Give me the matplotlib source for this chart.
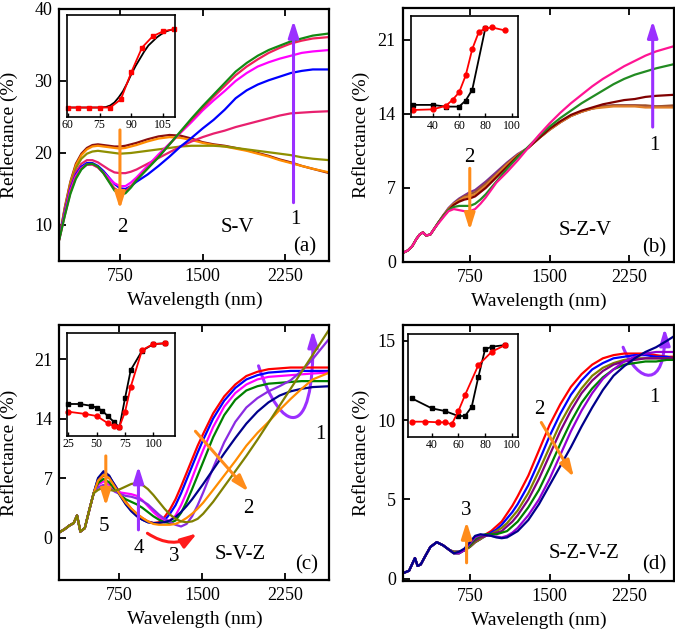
import matplotlib
matplotlib.use('Agg')
import matplotlib.pyplot as plt
from matplotlib.path import Path
from matplotlib.patches import FancyArrowPatch

plt.rcParams['font.family'] = ['Liberation Serif', 'DejaVu Serif']

# ---------------- panel (a) S-V ----------------
wl_a = [200, 250, 300, 350, 400, 450, 500, 550, 600, 650, 700, 750, 800, 850, 900, 1000,
        1100, 1200, 1300, 1400, 1500, 1600, 1700, 1800, 1900, 2000, 2100, 2200, 2300, 2400, 2500, 2650]
a_maroon = [8.2, 12.5, 16.0, 18.5, 19.9, 20.7, 21.1, 21.2, 21.1, 21.0, 20.9, 20.9, 21.0, 21.2, 21.4, 21.9,
            22.3, 22.5, 22.4, 22.0, 21.5, 21.2, 21.0, 20.7, 20.4, 20.0, 19.6, 19.1, 18.7, 18.2, 17.8, 17.2]
a_orange = [8.2, 12.3, 15.8, 18.3, 19.7, 20.5, 20.9, 21.0, 20.9, 20.8, 20.7, 20.6, 20.7, 20.9, 21.1, 21.6,
            22.0, 22.2, 22.1, 21.8, 21.4, 21.1, 20.9, 20.6, 20.3, 19.9, 19.5, 19.0, 18.6, 18.2, 17.8, 17.3]
a_olive = [8.2, 12.2, 15.6, 17.9, 19.2, 19.9, 20.2, 20.3, 20.2, 20.1, 20.0, 19.9, 19.95, 20.0, 20.1, 20.3,
           20.5, 20.7, 20.9, 21.0, 21.0, 21.0, 20.9, 20.7, 20.5, 20.3, 20.1, 19.9, 19.7, 19.4, 19.2, 19.0]
a_pink = [8.2, 12.0, 15.3, 17.4, 18.5, 19.0, 19.0, 18.7, 18.2, 17.7, 17.3, 17.2, 17.2, 17.4, 17.7, 18.5,
          19.3, 20.1, 20.9, 21.6, 22.2, 22.7, 23.1, 23.6, 24.0, 24.4, 24.8, 25.2, 25.5, 25.6, 25.7, 25.8]
a_blue = [8.2, 11.8, 15.0, 17.0, 18.1, 18.6, 18.6, 18.2, 17.5, 16.6, 15.7, 15.1, 15.0, 15.4, 16.0, 17.0,
          18.2, 19.5, 20.9, 22.1, 23.4, 24.6, 26.0, 27.6, 28.7, 29.5, 30.1, 30.6, 31.1, 31.4, 31.6, 31.6]
a_magenta = [8.1, 11.6, 14.8, 16.8, 17.9, 18.4, 18.4, 18.0, 17.3, 16.5, 15.8, 15.4, 15.4, 15.9, 16.6, 18.2,
             19.8, 21.3, 22.8, 24.3, 25.9, 27.3, 28.6, 30.0, 31.1, 32.0, 32.6, 33.1, 33.5, 33.9, 34.1, 34.3]
a_crimson = [8.0, 11.4, 14.5, 16.6, 17.8, 18.4, 18.4, 18.0, 17.2, 16.1, 15.1, 14.6, 14.7, 15.4, 16.3, 17.9,
             19.5, 21.2, 22.9, 24.6, 26.2, 27.8, 29.3, 30.8, 32.0, 33.0, 33.9, 34.6, 35.2, 35.6, 35.9, 36.1]
a_green = [8.0, 11.3, 14.3, 16.4, 17.7, 18.4, 18.5, 18.1, 17.2, 16.0, 14.8, 14.2, 14.4, 15.2, 16.2, 17.8,
           19.4, 21.2, 23.0, 24.8, 26.5, 28.1, 29.7, 31.3, 32.5, 33.5, 34.3, 34.9, 35.5, 35.9, 36.3, 36.6]
a_series = [a_maroon, a_orange, a_olive, a_pink, a_blue, a_magenta, a_crimson, a_green]
a_colors = ['#8b1010', '#ff8c00', '#8f8f00', '#e8206e', '#0000ff', '#ff00ff', '#f0205a', '#138a13']

ins_a_x = [60, 65, 70, 75, 80, 85, 90, 95, 100, 105, 110]
ins_a_red = [0.09, 0.09, 0.09, 0.09, 0.09, 0.17, 0.44, 0.68, 0.79, 0.84, 0.86]
ins_a_fit_x = [60, 75, 78, 80, 82, 84, 86, 88, 90, 92, 94, 96, 98, 100, 102, 104, 106, 108, 110]
ins_a_fit = [0.09, 0.09, 0.095, 0.11, 0.14, 0.19, 0.25, 0.33, 0.42, 0.50, 0.57, 0.64, 0.70, 0.74,
             0.78, 0.81, 0.835, 0.85, 0.86]

# ---------------- panel (b) S-Z-V ----------------
wl_b = [130, 170, 210, 250, 280, 310, 340, 380, 420, 460, 500, 550, 600, 650, 700, 750, 800, 850, 900,
        1000, 1100, 1200, 1300, 1400, 1500, 1600, 1700, 1800, 1900, 2000, 2100, 2200, 2300, 2400, 2500, 2670]
b_purple = [0.9, 1.1, 1.5, 2.2, 2.6, 2.8, 2.5, 2.6, 3.2, 3.8, 4.4, 5.1, 5.6, 6.0, 6.3, 6.6, 6.8, 7.2, 7.6,
            8.5, 9.4, 10.2, 10.8, 11.7, 12.5, 13.2, 13.8, 14.2, 14.5, 14.7, 14.8, 14.8, 14.8, 14.7, 14.7, 14.7]
b_sienna = [0.9, 1.1, 1.5, 2.2, 2.6, 2.8, 2.5, 2.6, 3.2, 3.8, 4.4, 5.0, 5.5, 5.9, 6.2, 6.4, 6.6, 7.0, 7.4,
            8.3, 9.3, 10.1, 10.8, 11.7, 12.5, 13.2, 13.8, 14.2, 14.5, 14.7, 14.8, 14.8, 14.8, 14.8, 14.7, 14.8]
b_orange = [0.9, 1.1, 1.5, 2.2, 2.6, 2.8, 2.5, 2.6, 3.2, 3.8, 4.3, 5.0, 5.5, 5.8, 6.1, 6.2, 6.4, 6.8, 7.2,
            8.2, 9.2, 10.1, 10.8, 11.7, 12.5, 13.2, 13.8, 14.2, 14.5, 14.6, 14.7, 14.7, 14.7, 14.6, 14.6, 14.6]
b_maroon = [0.9, 1.1, 1.5, 2.2, 2.6, 2.8, 2.5, 2.6, 3.2, 3.8, 4.3, 4.9, 5.4, 5.7, 5.9, 6.0, 6.2, 6.6, 7.0,
            8.0, 9.0, 10.0, 10.8, 11.7, 12.6, 13.3, 13.9, 14.3, 14.6, 14.9, 15.1, 15.3, 15.4, 15.6, 15.7, 15.8]
b_green = [0.9, 1.1, 1.5, 2.2, 2.6, 2.8, 2.5, 2.6, 3.2, 3.8, 4.3, 4.9, 5.2, 5.3, 5.3, 5.3, 5.5, 5.9, 6.4,
           7.6, 8.8, 9.9, 10.9, 11.9, 12.8, 13.6, 14.3, 15.0, 15.6, 16.2, 16.8, 17.3, 17.7, 18.0, 18.3, 18.7]
b_pink = [0.9, 1.1, 1.5, 2.2, 2.6, 2.8, 2.5, 2.6, 3.2, 3.7, 4.2, 4.8, 5.0, 4.9, 4.8, 4.8, 5.0, 5.5, 6.1,
          7.5, 8.5, 9.6, 10.8, 12.0, 13.1, 14.1, 15.0, 15.8, 16.6, 17.3, 17.9, 18.5, 19.0, 19.5, 19.9, 20.4]
b_series = [b_purple, b_sienna, b_orange, b_maroon, b_green, b_pink]
b_colors = ['#7d2e8e', '#a0522d', '#e0802a', '#800000', '#228b22', '#ff1493']

ins_b_black_x = [25, 40, 50, 60, 65, 70, 80]
ins_b_black = [0.124, 0.124, 0.107, 0.107, 0.167, 0.274, 0.884]
ins_b_red_x = [25, 40, 50, 55, 60, 65, 70, 75, 80, 85, 95]
ins_b_red = [0.074, 0.08, 0.115, 0.174, 0.247, 0.414, 0.674, 0.844, 0.877, 0.887, 0.857]

# ---------------- panel (c) S-V-Z ----------------
wl_c = [210, 260, 300, 340, 370, 400, 440, 480, 520, 560, 610, 660, 710, 760, 810, 860, 910, 960, 1010,
        1060, 1110, 1160, 1210, 1260, 1310, 1360, 1410, 1460, 1510, 1600, 1700, 1800, 1900, 2000, 2100,
        2200, 2300, 2400, 2500, 2650]
c_red = [0.6, 1.0, 1.4, 1.7, 2.6, 0.7, 1.1, 3.2, 5.2, 6.7,
         7.3, 7.0, 6.2, 5.2, 4.2, 3.4, 2.8, 2.3, 1.9, 1.7, 1.8, 2.4, 3.3, 4.5, 6.0, 7.6, 9.2, 10.8, 12.2,
         14.6, 16.6, 18.0, 19.0, 19.5, 19.8, 19.9, 20.0, 20.0, 20.0, 20.0]
c_blue = [0.6, 1.0, 1.4, 1.7, 2.6, 0.7, 1.1, 3.2, 5.2, 6.9,
          7.6, 7.2, 6.2, 5.1, 4.0, 3.2, 2.6, 2.1, 1.8, 1.7, 1.7, 2.0, 2.8, 3.8, 5.2, 6.8, 8.4, 10.0, 11.5,
          14.0, 16.1, 17.6, 18.6, 19.1, 19.4, 19.5, 19.6, 19.6, 19.6, 19.6]
c_magenta = [0.6, 1.0, 1.4, 1.7, 2.6, 0.7, 1.1, 3.2, 5.2, 6.2,
             6.6, 6.2, 5.6, 5.3, 5.2, 5.1, 4.9, 4.4, 3.7, 3.0, 2.4, 2.0, 2.0, 2.6, 3.8, 5.3, 7.0, 8.7, 10.3,
             13.0, 15.4, 17.0, 18.0, 18.6, 18.9, 19.0, 19.1, 19.2, 19.3, 19.4]
c_green = [0.6, 1.0, 1.4, 1.7, 2.6, 0.7, 1.1, 3.2, 5.2, 6.4,
           6.9, 6.5, 5.7, 5.0, 4.5, 4.2, 3.9, 3.5, 3.0, 2.5, 2.1, 1.8, 1.7, 2.0, 2.9, 4.2, 5.7, 7.3, 8.9,
           11.8, 14.4, 16.2, 17.3, 17.8, 18.1, 18.2, 18.3, 18.4, 18.4, 18.4]
c_violet = [0.6, 1.0, 1.4, 1.7, 2.6, 0.7, 1.1, 3.2, 5.2, 5.9,
            6.2, 5.9, 5.4, 5.1, 4.9, 4.8, 4.6, 4.3, 3.9, 3.3, 2.7, 2.2, 1.8, 1.5, 1.3, 1.6, 2.5, 3.8, 5.3,
            8.2, 11.2, 13.6, 15.3, 16.4, 17.2, 17.8, 18.5, 19.6, 21.0, 23.4]
c_navy = [0.6, 1.0, 1.4, 1.7, 2.6, 0.7, 1.1, 3.2, 5.2, 7.0,
          7.8, 7.3, 6.1, 4.9, 3.9, 3.1, 2.5, 2.1, 1.8, 1.7, 1.7, 1.8, 2.0, 2.4, 3.0, 3.7, 4.5, 5.4, 6.3,
          8.0, 9.9, 11.7, 13.4, 14.8, 15.9, 16.7, 17.2, 17.5, 17.7, 17.8]
c_orange = [0.6, 1.0, 1.4, 1.7, 2.6, 0.7, 1.1, 3.2, 5.2, 6.7,
            7.4, 7.0, 6.0, 5.0, 4.1, 3.4, 2.8, 2.3, 1.9, 1.6, 1.5, 1.5, 1.5, 1.6, 1.9, 2.3, 2.8, 3.4, 4.1,
            5.6, 7.3, 9.0, 10.8, 12.3, 13.6, 15.0, 16.3, 17.5, 18.6, 19.4]
c_olive = [0.6, 1.0, 1.4, 1.7, 2.6, 0.7, 1.1, 3.2, 5.2, 5.6,
           5.9, 5.6, 5.5, 5.7, 6.0, 6.3, 6.4, 6.2, 5.7, 5.0, 4.2, 3.4, 2.7, 2.2, 1.9, 1.8, 1.9, 2.2, 2.8,
           4.2, 6.0, 7.8, 9.6, 11.5, 13.5, 15.5, 17.5, 19.5, 21.5, 24.5]
c_series = [c_red, c_blue, c_magenta, c_green, c_violet, c_navy, c_orange, c_olive]
c_colors = ['#ff0000', '#0000ff', '#ff00ff', '#008000', '#8a2be2', '#00008b', '#ff8c00', '#808000']

ins_c_black_x = [25, 35, 45, 50, 55, 60, 65, 70, 75, 80, 90, 100, 110]
ins_c_black = [0.311, 0.311, 0.294, 0.275, 0.246, 0.19, 0.139, 0.084, 0.37, 0.641, 0.828, 0.893, 0.9]
ins_c_red_x = [25, 40, 50, 60, 65, 70, 75, 80, 90, 100, 110]
ins_c_red = [0.236, 0.214, 0.194, 0.123, 0.097, 0.09, 0.236, 0.479, 0.835, 0.893, 0.9]

# ---------------- panel (d) S-Z-V-Z ----------------
wl_d = [125, 180, 235, 260, 290, 330, 380, 440, 500, 560, 600, 650, 700, 750, 800, 850, 900, 950, 1000,
        1050, 1100, 1150, 1200, 1300, 1400, 1500, 1600, 1700, 1800, 1900, 2000, 2100, 2200, 2300, 2400,
        2500, 2600, 2670]
d_red = [0.35, 0.5, 1.3, 0.8, 0.9, 1.4, 2.0, 2.3, 2.1, 1.8,
         1.7, 1.7, 1.8, 2.0, 2.3, 2.5, 2.8, 3.0, 3.3, 3.6, 4.1, 4.6, 5.2, 6.5, 8.1, 9.7, 11.0, 12.1, 12.9,
         13.5, 13.9, 14.1, 14.2, 14.2, 14.2, 14.1, 14.0, 14.0]
d_blue = [0.35, 0.5, 1.3, 0.8, 0.9, 1.4, 2.0, 2.3, 2.1, 1.8,
          1.7, 1.7, 1.8, 2.0, 2.3, 2.5, 2.7, 2.9, 3.1, 3.4, 3.8, 4.2, 4.7, 5.9, 7.4, 9.0, 10.4, 11.6, 12.5,
          13.2, 13.6, 13.9, 14.0, 14.1, 14.1, 14.0, 14.0, 13.9]
d_olive = [0.35, 0.5, 1.3, 0.8, 0.9, 1.4, 2.0, 2.3, 2.1, 1.8,
           1.7, 1.7, 1.8, 2.0, 2.3, 2.5, 2.7, 2.8, 3.0, 3.2, 3.5, 3.9, 4.3, 5.4, 6.8, 8.3, 9.8, 11.0, 12.0,
           12.8, 13.3, 13.6, 13.8, 13.9, 13.9, 13.9, 13.9, 13.9]
d_purple = [0.35, 0.5, 1.3, 0.8, 0.9, 1.4, 2.0, 2.3, 2.1, 1.8,
            1.6, 1.6, 1.8, 2.1, 2.4, 2.6, 2.7, 2.8, 2.9, 3.0, 3.3, 3.6, 4.0, 5.0, 6.3, 7.8, 9.3, 10.6, 11.7,
            12.5, 13.1, 13.5, 13.7, 13.8, 13.9, 13.9, 13.9, 13.9]
d_green = [0.35, 0.5, 1.3, 0.8, 0.9, 1.4, 2.0, 2.3, 2.1, 1.8,
           1.6, 1.6, 1.8, 2.1, 2.5, 2.7, 2.8, 2.8, 2.8, 2.9, 3.0, 3.3, 3.6, 4.5, 5.6, 7.0, 8.5, 9.9, 11.1,
           12.0, 12.7, 13.2, 13.5, 13.6, 13.7, 13.7, 13.8, 13.8]
d_violet = [0.35, 0.5, 1.3, 0.8, 0.9, 1.4, 2.0, 2.3, 2.1, 1.8,
            1.6, 1.6, 1.8, 2.2, 2.6, 2.75, 2.75, 2.7, 2.65, 2.6, 2.7, 2.9, 3.2, 4.0, 5.0, 6.3, 7.8, 9.3, 10.6,
            11.7, 12.6, 13.2, 13.7, 14.0, 14.2, 14.3, 14.3, 14.3]
d_navy = [0.35, 0.5, 1.3, 0.8, 0.9, 1.4, 2.0, 2.3, 2.1, 1.8,
          1.6, 1.7, 1.9, 2.3, 2.7, 2.8, 2.75, 2.7, 2.6, 2.55, 2.6, 2.8, 3.0, 3.7, 4.7, 5.9, 7.1, 8.3, 9.6,
          10.8, 11.9, 12.8, 13.4, 13.9, 14.3, 14.6, 15.0, 15.3]
d_series = [d_red, d_blue, d_olive, d_purple, d_green, d_violet, d_navy]
d_colors = ['#ff0000', '#0000ff', '#808000', '#800080', '#008000', '#9400d3', '#00008b']

ins_d_black_x = [25, 40, 50, 60, 65, 70, 75, 80, 85, 95]
ins_d_black = [0.376, 0.279, 0.252, 0.204, 0.204, 0.294, 0.585, 0.851, 0.877, 0.893]
ins_d_red_x = [25, 35, 45, 50, 55, 60, 65, 75, 85, 95]
ins_d_red = [0.149, 0.149, 0.143, 0.143, 0.123, 0.252, 0.408, 0.699, 0.828, 0.893]

ORANGE = '#ff8c1a'
PURPLE = '#9b30ff'
HEAD = '-|>,head_length=0.7,head_width=0.22'

fig = plt.figure(figsize=(6.75, 6.31), dpi=100)


def main_axes(rect, xlim, ylim, yticks, ylab_x):
    ax = fig.add_axes(rect)
    ax.set_xlim(xlim)
    ax.set_ylim(ylim)
    ax.set_xticks([750, 1500, 2250])
    ax.set_yticks(yticks)
    ax.tick_params(direction='in', length=5, width=1.3, labelsize=13, top=True, pad=5)
    for s in ax.spines.values():
        s.set_linewidth(1.6)
    ax.set_xlabel('Wavelength (nm)', fontsize=14)
    ax.set_ylabel('Reflectance (%)', fontsize=14)
    ax.xaxis.set_label_coords(0.5, -0.12)
    ax.yaxis.set_label_coords(ylab_x, 0.5)
    return ax


def inset(rect, xlim, xticks):
    ax = fig.add_axes(rect)
    ax.set_xlim(xlim)
    ax.set_ylim(0, 1)
    ax.set_xticks(xticks)
    ax.set_yticks([])
    ax.tick_params(direction='in', length=3, width=1.0, labelsize=8.5, pad=1.5)
    for s in ax.spines.values():
        s.set_linewidth(1.2)
    return ax


def arrow(ax, start, end, color):
    ax.annotate('', xy=end, xytext=start,
                arrowprops=dict(arrowstyle=HEAD, color=color, lw=2.2, shrinkA=0, shrinkB=0,
                                mutation_scale=14))


def loop(ax, verts):
    p = FancyArrowPatch(path=Path(verts, [Path.MOVETO, Path.CURVE4, Path.CURVE4, Path.CURVE4]),
                        arrowstyle=HEAD, mutation_scale=14, color=PURPLE, lw=2.2)
    ax.add_patch(p)


# (a)
ax = main_axes([0.0879, 0.5864, 0.4, 0.3994], (200, 2650), (5, 40), [10, 20, 30, 40], -0.153)
for y, c in zip(a_series, a_colors):
    ax.plot(wl_a, y, color=c, lw=1.6)
arrow(ax, (750, 23.2), (750, 12.2), ORANGE)
arrow(ax, (2325, 13.1), (2325, 38.4), PURPLE)
ax.text(768, 9.6, '2', fontsize=15, ha='center', va='center')
ax.text(2340, 10.7, '1', fontsize=15, ha='center', va='center')
ax.text(1820, 9.6, 'S-V', fontsize=15, ha='center', va='center')
ax.text(2430, 7.0, '(a)', fontsize=15, ha='center', va='center')

ins = inset([0.0988, 0.8151, 0.1604, 0.1612], (59.5, 110.5), [60, 75, 90, 105])
ins.plot(ins_a_fit_x, ins_a_fit, color='black', lw=1.3)
ins.plot(ins_a_x, ins_a_red, color='#ff0000', lw=1.3, marker='s', ms=3.5, clip_on=False)

# (b)
ax = main_axes([0.5966, 0.5848, 0.4022, 0.4025], (120, 2670), (0, 24), [0, 7, 14, 21], -0.12)
for y, c in zip(b_series, b_colors):
    ax.plot(wl_b, y, color=c, lw=1.6)
arrow(ax, (750, 8.85), (750, 3.0), ORANGE)
arrow(ax, (2468, 12.75), (2468, 22.8), PURPLE)
ax.text(750, 9.9, '2', fontsize=15, ha='center', va='center')
ax.text(2484, 11.0, '1', fontsize=15, ha='center', va='center')
ax.text(1830, 3.0, 'S-Z-V', fontsize=15, ha='center', va='center')
ax.text(2484, 1.3, '(b)', fontsize=15, ha='center', va='center')

ins = inset([0.6089, 0.8138, 0.1581, 0.1609], (23.5, 104.5), [40, 60, 80, 100])
ins.plot(ins_b_black_x, ins_b_black, color='black', lw=1.3, marker='s', ms=3.5, clip_on=False)
ins.plot(ins_b_red_x, ins_b_red, color='#ff0000', lw=1.3, marker='o', ms=3.5, clip_on=False)

# (c)
ax = main_axes([0.0879, 0.0808, 0.4, 0.4041], (210, 2650), (-5, 25), [0, 7, 14, 21], -0.153)
for y, c in zip(c_series, c_colors):
    ax.plot(wl_c, y, color=c, lw=1.6)
arrow(ax, (630, 9.6), (630, 3.7), ORANGE)
arrow(ax, (925, 0.9), (925, 8.4), PURPLE)
ax.annotate('', xy=(1456, 0.5), xytext=(1006, 0.5),
            arrowprops=dict(arrowstyle=HEAD, color='#ff1a1a', lw=2.2, shrinkA=0, shrinkB=0,
                            mutation_scale=14, connectionstyle='arc3,rad=0.33'))
arrow(ax, (1440, 12.5), (1920, 5.4), ORANGE)
loop(ax, [(2010, 20.2), (2200, 12.5), (2520, 10.5), (2500, 24.4)])
ax.text(615, 1.3, '5', fontsize=15, ha='center', va='center')
ax.text(930, -1.25, '4', fontsize=15, ha='center', va='center')
ax.text(1245, -2.2, '3', fontsize=15, ha='center', va='center')
ax.text(1920, 3.4, '2', fontsize=15, ha='center', va='center')
ax.text(2572, 12.1, '1', fontsize=15, ha='center', va='center')
ax.text(1845, -2.0, 'S-V-Z', fontsize=15, ha='center', va='center')
ax.text(2445, -3.2, '(c)', fontsize=15, ha='center', va='center')

ins = inset([0.0988, 0.309, 0.1604, 0.1632], (23.5, 119), [25, 50, 75, 100])
ins.plot(ins_c_black_x, ins_c_black, color='black', lw=1.3, marker='s', ms=3.5, clip_on=False)
ins.plot(ins_c_red_x, ins_c_red, color='#ff0000', lw=1.3, marker='o', ms=3.5, clip_on=False)

# (d)
ax = main_axes([0.5966, 0.0792, 0.4022, 0.4057], (120, 2670), (-0.15, 16), [0, 5, 10, 15], -0.12)
for y, c in zip(d_series, d_colors):
    ax.plot(wl_d, y, color=c, lw=1.6)
arrow(ax, (720, 1.0), (720, 3.6), ORANGE)
arrow(ax, (1422, 9.85), (1728, 6.4), ORANGE)
loop(ax, [(2190, 14.6), (2330, 12.3), (2590, 11.9), (2580, 15.8)])
ax.text(720, 4.3, '3', fontsize=15, ha='center', va='center')
ax.text(1406, 10.7, '2', fontsize=15, ha='center', va='center')
ax.text(2484, 11.4, '1', fontsize=15, ha='center', va='center')
ax.text(1828, 1.6, 'S-Z-V-Z', fontsize=15, ha='center', va='center')
ax.text(2484, 0.9, '(d)', fontsize=15, ha='center', va='center')

ins = inset([0.604, 0.3074, 0.163, 0.1632], (22, 104.5), [40, 60, 80, 100])
ins.plot(ins_d_black_x, ins_d_black, color='black', lw=1.3, marker='s', ms=3.5, clip_on=False)
ins.plot(ins_d_red_x, ins_d_red, color='#ff0000', lw=1.3, marker='o', ms=3.5, clip_on=False)

fig.savefig('out.png', dpi=100)
